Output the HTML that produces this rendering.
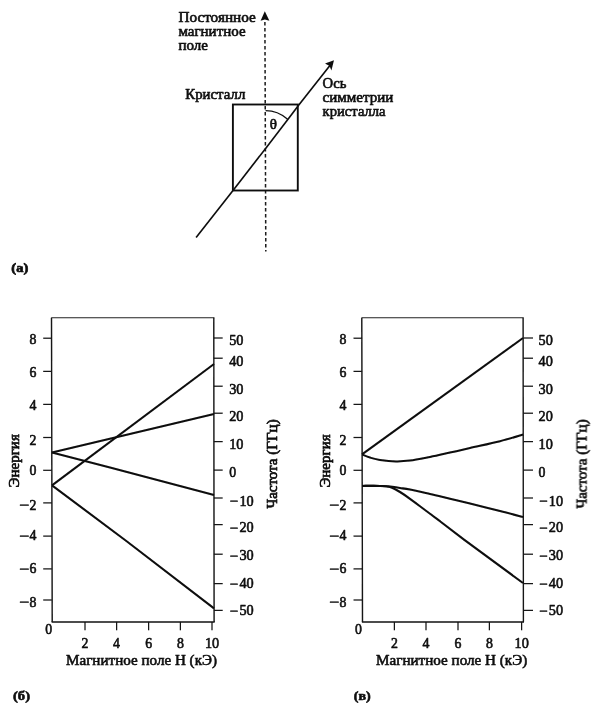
<!DOCTYPE html>
<html lang="ru"><head><meta charset="utf-8"><title>Рисунок</title>
<style>
html,body{margin:0;padding:0;background:#fff;}
body{width:600px;height:715px;overflow:hidden;position:relative;}
svg{display:block;position:absolute;left:0;top:0;}
text{font-family:"Liberation Serif", "DejaVu Serif", serif;font-size:15px;stroke:#0c0c0c;fill:#0c0c0c;stroke-width:0.62px;stroke-linejoin:round;}
.c text{stroke-width:0.62px;}
.c .xt{font-size:14.3px;stroke-width:0.58px;}
.c .mn{stroke-width:0.5px;}
.c .yt{stroke-width:0.68px;}
.b{font-weight:bold;font-size:13.5px;stroke-width:0.7px;}
.ln{stroke:#111;fill:none;}
.cv{stroke:#0a0a0a;fill:none;stroke-width:2.05;stroke-linejoin:round;}
.tk{stroke:#141414;fill:none;stroke-width:1.25;}
</style></head><body>
<svg width="600" height="715" viewBox="0 0 600 715">
<defs><filter id="soft" x="0" y="0" width="600" height="715" filterUnits="userSpaceOnUse"><feGaussianBlur stdDeviation="0.35"/></filter></defs>
<rect x="0" y="0" width="600" height="715" fill="#fff"/>
<g filter="url(#soft)">
<g id="diagram">
<line class="ln" x1="264.9" y1="22" x2="265.8" y2="251.5" stroke-width="1.5" stroke-dasharray="3.6 2.4" style="stroke:#1a1a1a"/>
<path d="M264.8 11.3 L269.4 20.8 L264.8 19.6 L260.6 20.8 Z" fill="#111"/>
<rect class="ln" x="232.9" y="104.5" width="64.9" height="86" stroke-width="1.9"/>
<path class="ln" d="M196.1 237.5 L233 190.4 L266 148 L288 119.2 L299 104.8 L331.5 63.4" stroke-width="1.65" stroke-linejoin="round"/>
<path d="M334 60.2 L331.4 70.6 L329.6 66.0 L325.0 63.6 Z" fill="#111"/>
<path class="ln" d="M265.6 110.6 C273 110.6 281 113.4 287.6 119.2" stroke-width="1.3"/>
<text x="269.8" y="129.3" textLength="7.2" lengthAdjust="spacingAndGlyphs" style="font-size:14px;stroke-width:0.6px">θ</text>
<text x="178.4" y="21.7" textLength="77.4" lengthAdjust="spacingAndGlyphs">Постоянное</text>
<text x="178.4" y="36.2">магнитное</text>
<text x="178.4" y="50.1">поле</text>
<text x="185.3" y="98.7" textLength="60" lengthAdjust="spacingAndGlyphs">Кристалл</text>
<text x="322.6" y="87.5" textLength="23.8" lengthAdjust="spacingAndGlyphs">Ось</text>
<text x="322.6" y="101.8" textLength="70.8" lengthAdjust="spacingAndGlyphs">симметрии</text>
<text x="322.6" y="115.6" textLength="63" lengthAdjust="spacingAndGlyphs">кристалла</text>
<text class="b" x="11.3" y="271.8" textLength="17" lengthAdjust="spacingAndGlyphs">(а)</text>
</g>
<g id="chart-b" class="c">
<path class="ln" d="M51.3 317.7 H214.4" stroke-width="1.1" style="stroke:#222"/>
<path class="ln" d="M51.5 317.7 L52.2 621.9 M214.1 621.9 L213.8 317.7" stroke-width="1.4" style="stroke:#141414"/>
<path class="ln" d="M51.6 621.9 H214.7" stroke-width="1.45" style="stroke:#141414"/>
<line class="tk" x1="43.2" y1="338.2" x2="51.8" y2="338.2"/>
<text x="29.5" y="344.4" textLength="6.90" lengthAdjust="spacingAndGlyphs">8</text>
<line class="tk" x1="43.2" y1="371.4" x2="51.8" y2="371.4"/>
<text x="29.5" y="376.6" textLength="6.90" lengthAdjust="spacingAndGlyphs">6</text>
<line class="tk" x1="43.2" y1="404.4" x2="51.8" y2="404.4"/>
<text x="29.5" y="409.6" textLength="6.90" lengthAdjust="spacingAndGlyphs">4</text>
<line class="tk" x1="43.2" y1="437.5" x2="51.8" y2="437.5"/>
<text x="29.5" y="445.0" textLength="6.90" lengthAdjust="spacingAndGlyphs">2</text>
<line class="tk" x1="43.2" y1="470.3" x2="51.8" y2="470.3"/>
<text x="29.5" y="475.0" textLength="6.90" lengthAdjust="spacingAndGlyphs">0</text>
<line class="tk" x1="43.2" y1="502.9" x2="51.8" y2="502.9"/>
<text y="509.6"><tspan class="mn" x="18.9" dy="0.8" textLength="10.2" lengthAdjust="spacingAndGlyphs">−</tspan><tspan x="29.5" dy="-0.8" textLength="6.90" lengthAdjust="spacingAndGlyphs">2</tspan></text>
<line class="tk" x1="43.2" y1="536.1" x2="51.8" y2="536.1"/>
<text y="540.2"><tspan class="mn" x="18.9" dy="0.8" textLength="10.2" lengthAdjust="spacingAndGlyphs">−</tspan><tspan x="29.5" dy="-0.8" textLength="6.90" lengthAdjust="spacingAndGlyphs">4</tspan></text>
<line class="tk" x1="43.2" y1="568.9" x2="51.8" y2="568.9"/>
<text y="572.9"><tspan class="mn" x="18.9" dy="0.8" textLength="10.2" lengthAdjust="spacingAndGlyphs">−</tspan><tspan x="29.5" dy="-0.8" textLength="6.90" lengthAdjust="spacingAndGlyphs">6</tspan></text>
<line class="tk" x1="43.2" y1="600.0" x2="51.8" y2="600.0"/>
<text y="606.6"><tspan class="mn" x="18.9" dy="0.8" textLength="10.2" lengthAdjust="spacingAndGlyphs">−</tspan><tspan x="29.5" dy="-0.8" textLength="6.90" lengthAdjust="spacingAndGlyphs">8</tspan></text>
<line class="tk" x1="213.9" y1="338.0" x2="222.7" y2="338.0"/>
<text x="229.2" y="344.8" textLength="14.25" lengthAdjust="spacingAndGlyphs">50</text>
<line class="tk" x1="213.9" y1="358.2" x2="222.7" y2="358.2"/>
<text x="229.2" y="366.0" textLength="14.25" lengthAdjust="spacingAndGlyphs">40</text>
<line class="tk" x1="213.9" y1="386.2" x2="222.7" y2="386.2"/>
<text x="229.2" y="393.6" textLength="14.25" lengthAdjust="spacingAndGlyphs">30</text>
<line class="tk" x1="213.9" y1="413.2" x2="222.7" y2="413.2"/>
<text x="229.2" y="421.2" textLength="14.25" lengthAdjust="spacingAndGlyphs">20</text>
<line class="tk" x1="213.9" y1="441.6" x2="222.7" y2="441.6"/>
<text x="229.2" y="449.0" textLength="14.25" lengthAdjust="spacingAndGlyphs">10</text>
<line class="tk" x1="213.9" y1="470.1" x2="222.7" y2="470.1"/>
<text x="229.2" y="477.0" textLength="6.90" lengthAdjust="spacingAndGlyphs">0</text>
<line class="tk" x1="213.9" y1="498.0" x2="222.7" y2="498.0"/>
<text y="505.6"><tspan class="mn" x="229.6" dy="0.8" textLength="8.6" lengthAdjust="spacingAndGlyphs">−</tspan><tspan x="239.4" dy="-0.8" textLength="14.25" lengthAdjust="spacingAndGlyphs">10</tspan></text>
<line class="tk" x1="213.9" y1="524.6" x2="222.7" y2="524.6"/>
<text y="532.4"><tspan class="mn" x="229.6" dy="0.8" textLength="8.6" lengthAdjust="spacingAndGlyphs">−</tspan><tspan x="239.4" dy="-0.8" textLength="14.25" lengthAdjust="spacingAndGlyphs">20</tspan></text>
<line class="tk" x1="213.9" y1="554.2" x2="222.7" y2="554.2"/>
<text y="560.0"><tspan class="mn" x="229.6" dy="0.8" textLength="8.6" lengthAdjust="spacingAndGlyphs">−</tspan><tspan x="239.4" dy="-0.8" textLength="14.25" lengthAdjust="spacingAndGlyphs">30</tspan></text>
<line class="tk" x1="213.9" y1="583.6" x2="222.7" y2="583.6"/>
<text y="588.0"><tspan class="mn" x="229.6" dy="0.8" textLength="8.6" lengthAdjust="spacingAndGlyphs">−</tspan><tspan x="239.4" dy="-0.8" textLength="14.25" lengthAdjust="spacingAndGlyphs">40</tspan></text>
<line class="tk" x1="213.9" y1="610.4" x2="222.7" y2="610.4"/>
<text y="615.0"><tspan class="mn" x="229.6" dy="0.8" textLength="8.6" lengthAdjust="spacingAndGlyphs">−</tspan><tspan x="239.4" dy="-0.8" textLength="14.25" lengthAdjust="spacingAndGlyphs">50</tspan></text>
<line class="tk" x1="85.0" y1="621.9" x2="85.0" y2="630.3"/>
<text x="81.5" y="647.6" textLength="6.90" lengthAdjust="spacingAndGlyphs">2</text>
<line class="tk" x1="116.6" y1="621.9" x2="116.6" y2="630.3"/>
<text x="113.1" y="647.6" textLength="6.90" lengthAdjust="spacingAndGlyphs">4</text>
<line class="tk" x1="148.6" y1="621.9" x2="148.6" y2="630.3"/>
<text x="145.2" y="647.6" textLength="6.90" lengthAdjust="spacingAndGlyphs">6</text>
<line class="tk" x1="180.4" y1="621.9" x2="180.4" y2="630.3"/>
<text x="177.0" y="647.6" textLength="6.90" lengthAdjust="spacingAndGlyphs">8</text>
<line class="tk" x1="212.0" y1="621.9" x2="212.0" y2="630.3"/>
<text x="204.9" y="647.6" textLength="14.25" lengthAdjust="spacingAndGlyphs">10</text>
<text x="45.3" y="633.8" textLength="6.90" lengthAdjust="spacingAndGlyphs">0</text>
<text class="xt" x="66.0" y="665.4" textLength="151.0" lengthAdjust="spacingAndGlyphs">Магнитное поле H (кЭ)</text>
<text class="yt" transform="translate(18.6 460.8) rotate(-90)" text-anchor="middle">Энергия</text>
<text class="yt" transform="translate(276.8 464.0) rotate(-90)" text-anchor="middle">Частота (ГГц)</text>
<path class="cv" d="M52 452.4 L214 414"/>
<path class="cv" d="M52 452.4 L110 467.6 L214 495"/>
<path class="cv" d="M52 485.4 L214 364"/>
<path class="cv" d="M52 485.4 L126 540.7 L214 608.4"/>
<text class="b" x="13.0" y="700.2" textLength="17" lengthAdjust="spacingAndGlyphs">(б)</text>
</g>
<g id="chart-v" class="c">
<path class="ln" d="M361.6 317.7 H523.7" stroke-width="1.1" style="stroke:#222"/>
<path class="ln" d="M361.8 317.7 L362.5 621.9 M523.4 621.9 L523.1 317.7" stroke-width="1.4" style="stroke:#141414"/>
<path class="ln" d="M361.9 621.9 H524.0" stroke-width="1.45" style="stroke:#141414"/>
<line class="tk" x1="353.5" y1="338.2" x2="362.1" y2="338.2"/>
<text x="339.5" y="344.4" textLength="6.90" lengthAdjust="spacingAndGlyphs">8</text>
<line class="tk" x1="353.5" y1="371.4" x2="362.1" y2="371.4"/>
<text x="339.5" y="376.6" textLength="6.90" lengthAdjust="spacingAndGlyphs">6</text>
<line class="tk" x1="353.5" y1="404.4" x2="362.1" y2="404.4"/>
<text x="339.5" y="409.6" textLength="6.90" lengthAdjust="spacingAndGlyphs">4</text>
<line class="tk" x1="353.5" y1="437.5" x2="362.1" y2="437.5"/>
<text x="339.5" y="445.0" textLength="6.90" lengthAdjust="spacingAndGlyphs">2</text>
<line class="tk" x1="353.5" y1="470.3" x2="362.1" y2="470.3"/>
<text x="339.5" y="475.0" textLength="6.90" lengthAdjust="spacingAndGlyphs">0</text>
<line class="tk" x1="353.5" y1="502.9" x2="362.1" y2="502.9"/>
<text y="509.6"><tspan class="mn" x="328.9" dy="0.8" textLength="10.2" lengthAdjust="spacingAndGlyphs">−</tspan><tspan x="339.5" dy="-0.8" textLength="6.90" lengthAdjust="spacingAndGlyphs">2</tspan></text>
<line class="tk" x1="353.5" y1="536.1" x2="362.1" y2="536.1"/>
<text y="540.2"><tspan class="mn" x="328.9" dy="0.8" textLength="10.2" lengthAdjust="spacingAndGlyphs">−</tspan><tspan x="339.5" dy="-0.8" textLength="6.90" lengthAdjust="spacingAndGlyphs">4</tspan></text>
<line class="tk" x1="353.5" y1="568.9" x2="362.1" y2="568.9"/>
<text y="572.9"><tspan class="mn" x="328.9" dy="0.8" textLength="10.2" lengthAdjust="spacingAndGlyphs">−</tspan><tspan x="339.5" dy="-0.8" textLength="6.90" lengthAdjust="spacingAndGlyphs">6</tspan></text>
<line class="tk" x1="353.5" y1="600.0" x2="362.1" y2="600.0"/>
<text y="606.6"><tspan class="mn" x="328.9" dy="0.8" textLength="10.2" lengthAdjust="spacingAndGlyphs">−</tspan><tspan x="339.5" dy="-0.8" textLength="6.90" lengthAdjust="spacingAndGlyphs">8</tspan></text>
<line class="tk" x1="523.2" y1="338.0" x2="533.0" y2="338.0"/>
<text x="538.6" y="344.8" textLength="14.25" lengthAdjust="spacingAndGlyphs">50</text>
<line class="tk" x1="523.2" y1="358.2" x2="533.0" y2="358.2"/>
<text x="538.6" y="366.0" textLength="14.25" lengthAdjust="spacingAndGlyphs">40</text>
<line class="tk" x1="523.2" y1="386.2" x2="533.0" y2="386.2"/>
<text x="538.6" y="393.6" textLength="14.25" lengthAdjust="spacingAndGlyphs">30</text>
<line class="tk" x1="523.2" y1="413.2" x2="533.0" y2="413.2"/>
<text x="538.6" y="421.2" textLength="14.25" lengthAdjust="spacingAndGlyphs">20</text>
<line class="tk" x1="523.2" y1="441.6" x2="533.0" y2="441.6"/>
<text x="538.6" y="449.0" textLength="14.25" lengthAdjust="spacingAndGlyphs">10</text>
<line class="tk" x1="523.2" y1="470.1" x2="533.0" y2="470.1"/>
<text x="538.6" y="477.0" textLength="6.90" lengthAdjust="spacingAndGlyphs">0</text>
<line class="tk" x1="523.2" y1="498.0" x2="533.0" y2="498.0"/>
<text y="505.6"><tspan class="mn" x="539.0" dy="0.8" textLength="8.6" lengthAdjust="spacingAndGlyphs">−</tspan><tspan x="548.8" dy="-0.8" textLength="14.25" lengthAdjust="spacingAndGlyphs">10</tspan></text>
<line class="tk" x1="523.2" y1="524.6" x2="533.0" y2="524.6"/>
<text y="532.4"><tspan class="mn" x="539.0" dy="0.8" textLength="8.6" lengthAdjust="spacingAndGlyphs">−</tspan><tspan x="548.8" dy="-0.8" textLength="14.25" lengthAdjust="spacingAndGlyphs">20</tspan></text>
<line class="tk" x1="523.2" y1="554.2" x2="533.0" y2="554.2"/>
<text y="560.0"><tspan class="mn" x="539.0" dy="0.8" textLength="8.6" lengthAdjust="spacingAndGlyphs">−</tspan><tspan x="548.8" dy="-0.8" textLength="14.25" lengthAdjust="spacingAndGlyphs">30</tspan></text>
<line class="tk" x1="523.2" y1="583.6" x2="533.0" y2="583.6"/>
<text y="588.0"><tspan class="mn" x="539.0" dy="0.8" textLength="8.6" lengthAdjust="spacingAndGlyphs">−</tspan><tspan x="548.8" dy="-0.8" textLength="14.25" lengthAdjust="spacingAndGlyphs">40</tspan></text>
<line class="tk" x1="523.2" y1="610.4" x2="533.0" y2="610.4"/>
<text y="615.0"><tspan class="mn" x="539.0" dy="0.8" textLength="8.6" lengthAdjust="spacingAndGlyphs">−</tspan><tspan x="548.8" dy="-0.8" textLength="14.25" lengthAdjust="spacingAndGlyphs">50</tspan></text>
<line class="tk" x1="394.4" y1="621.9" x2="394.4" y2="630.3"/>
<text x="390.9" y="647.6" textLength="6.90" lengthAdjust="spacingAndGlyphs">2</text>
<line class="tk" x1="426.0" y1="621.9" x2="426.0" y2="630.3"/>
<text x="422.6" y="647.6" textLength="6.90" lengthAdjust="spacingAndGlyphs">4</text>
<line class="tk" x1="458.0" y1="621.9" x2="458.0" y2="630.3"/>
<text x="454.6" y="647.6" textLength="6.90" lengthAdjust="spacingAndGlyphs">6</text>
<line class="tk" x1="489.4" y1="621.9" x2="489.4" y2="630.3"/>
<text x="485.9" y="647.6" textLength="6.90" lengthAdjust="spacingAndGlyphs">8</text>
<line class="tk" x1="521.6" y1="621.9" x2="521.6" y2="630.3"/>
<text x="514.5" y="647.6" textLength="14.25" lengthAdjust="spacingAndGlyphs">10</text>
<text x="354.9" y="633.8" textLength="6.90" lengthAdjust="spacingAndGlyphs">0</text>
<text class="xt" x="376.0" y="665.4" textLength="151.2" lengthAdjust="spacingAndGlyphs">Магнитное поле H (кЭ)</text>
<text class="yt" transform="translate(330.2 461.0) rotate(-90)" text-anchor="middle">Энергия</text>
<text class="yt" transform="translate(586.6 464.0) rotate(-90)" text-anchor="middle">Частота (ГГц)</text>
<path class="cv" d="M362 454.4 L523 338"/>
<path class="cv" d="M362.0 454.4 C363.3 454.9 367.0 456.7 370.0 457.6 C373.0 458.5 375.7 459.4 380.0 460.0 C384.3 460.6 391.0 461.3 396.0 461.4 C401.0 461.5 404.3 461.3 410.0 460.6 C415.7 459.9 423.3 458.3 430.0 457.0 C436.7 455.7 443.3 454.1 450.0 452.6 C456.7 451.1 461.7 449.9 470.0 448.0 C478.3 446.1 491.2 443.4 500.0 441.2 C508.8 439.0 519.2 435.7 523.0 434.6"/>
<path class="cv" d="M362.0 485.9 C365.0 485.9 375.3 485.8 380.0 485.9 C384.7 486.0 386.7 486.2 390.0 486.6 C393.3 487.0 396.7 487.5 400.0 488.0 C403.3 488.5 405.0 488.6 410.0 489.6 C415.0 490.6 423.3 492.5 430.0 494.0 C436.7 495.5 443.3 497.2 450.0 498.8 C456.7 500.4 461.7 501.6 470.0 503.6 C478.3 505.6 491.2 508.8 500.0 511.0 C508.8 513.2 519.2 516.0 523.0 517.0"/>
<path class="cv" d="M362.0 485.9 C365.0 485.9 375.3 485.7 380.0 485.9 C384.7 486.1 386.7 486.0 390.0 487.0 C393.3 488.0 396.7 490.0 400.0 492.0 C403.3 494.0 406.7 496.4 410.0 498.8 C413.3 501.2 416.7 503.7 420.0 506.2 C423.3 508.7 426.7 511.2 430.0 513.7 C433.3 516.2 438.3 520.0 440.0 521.2 L464 539.6 L523 583"/>
<text class="b" x="353.7" y="700.2" textLength="17" lengthAdjust="spacingAndGlyphs">(в)</text>
</g>
</g>
</svg></body></html>
